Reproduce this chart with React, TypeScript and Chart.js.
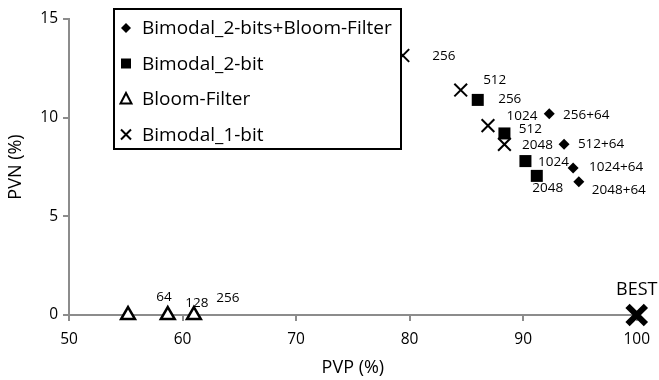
import React, { useEffect, useRef } from "react";
import { Chart, registerables } from "chart.js";

Chart.register(...registerables);

// ---- data ----
const seriesNames = ["Bimodal_2-bits+Bloom-Filter", "Bimodal_2-bit", "Bloom-Filter", "Bimodal_1-bit"];

const bfPVP = [92.3, 93.6, 94.4, 94.9];
const bfPVN = [10.2, 8.65, 7.45, 6.75];
const bfLabels = ["256+64", "512+64", "1024+64", "2048+64"];

const b2PVP = [86.0, 88.35, 90.2, 91.2];
const b2PVN = [10.9, 9.2, 7.8, 7.05];
const b2Labels = ["256", "512", "1024", "2048"];

const bloomPVP = [55.2, 58.7, 61.0];
const bloomPVN = [0, 0, 0];
const bloomLabels = ["64", "128", "256"];

const b1PVP = [79.4, 84.5, 86.9, 88.35];
const b1PVN = [13.15, 11.4, 9.6, 8.65];
const b1Labels = ["256", "512", "1024", "2048"];

const bestPVP = [100];
const bestPVN = [0];
const bestLabels = ["BEST"];

const xTicks = [50, 60, 70, 80, 90, 100];
const yTicks = [0, 5, 10, 15];

// label placement (pixel offsets from marker), styling only
const labelOffsets: number[][][] = [
  [[37, 1], [37, 0], [43, -1], [40, 8]],
  [[32, -1], [26, -4], [28, 1], [11, 12]],
  [[36, -18], [29, -12], [34, -17]],
  [[41, 1], [34, -10], [34, -9], [33, 1]],
  [[0, -25]],
];

const FONT = "'Open Sans', sans-serif";

const toPts = (xs: number[], ys: number[]) => xs.map((x, i) => ({ x, y: ys[i] }));

const pointLabelsPlugin = {
  id: "pointLabels",
  afterDatasetsDraw(chart: any) {
    const ctx = chart.ctx;
    ctx.save();
    ctx.fillStyle = "#000";
    ctx.textAlign = "center";
    ctx.textBaseline = "middle";
    chart.data.datasets.forEach((ds: any, di: number) => {
      const meta = chart.getDatasetMeta(di);
      const labels: string[] = ds.pointLabels || [];
      meta.data.forEach((el: any, i: number) => {
        const off = (labelOffsets[di] && labelOffsets[di][i]) || [30, 0];
        ctx.font = di === 4 ? `18px ${FONT}` : `13.5px ${FONT}`;
        ctx.fillText(labels[i], el.x + off[0], el.y + off[1]);
      });
    });
    ctx.restore();
  },
};

const boxLegendPlugin = {
  id: "boxLegend",
  afterDraw(chart: any) {
    const ctx = chart.ctx;
    const ca = chart.chartArea;
    const left = ca.left + 45;
    const top = ca.top - 10;
    const w = 287;
    const h = 140;
    ctx.save();
    ctx.fillStyle = "#fff";
    ctx.fillRect(left, top, w, h);
    ctx.strokeStyle = "#000";
    ctx.lineWidth = 2;
    ctx.strokeRect(left, top, w, h);
    ctx.font = `19px ${FONT}`;
    ctx.textAlign = "left";
    ctx.textBaseline = "middle";
    const mx = left + 12;
    seriesNames.forEach((name, i) => {
      const cy = top + 19 + i * 35.5;
      ctx.fillStyle = "#000";
      ctx.strokeStyle = "#000";
      ctx.beginPath();
      if (i === 0) {
        ctx.moveTo(mx - 5, cy);
        ctx.lineTo(mx, cy - 5);
        ctx.lineTo(mx + 5, cy);
        ctx.lineTo(mx, cy + 5);
        ctx.closePath();
        ctx.fill();
      } else if (i === 1) {
        ctx.rect(mx - 5, cy - 5, 10, 10);
        ctx.fill();
      } else if (i === 2) {
        ctx.lineWidth = 2;
        ctx.moveTo(mx, cy - 6);
        ctx.lineTo(mx + 5.5, cy + 4.5);
        ctx.lineTo(mx - 5.5, cy + 4.5);
        ctx.closePath();
        ctx.stroke();
      } else {
        ctx.lineWidth = 2;
        ctx.moveTo(mx - 5, cy - 5);
        ctx.lineTo(mx + 5, cy + 5);
        ctx.moveTo(mx + 5, cy - 5);
        ctx.lineTo(mx - 5, cy + 5);
        ctx.stroke();
      }
      ctx.fillStyle = "#000";
      ctx.fillText(name, left + 28, cy + 1);
    });
    ctx.restore();
  },
};

export default function App() {
  const ref = useRef<HTMLCanvasElement | null>(null);
  useEffect(() => {
    document.body.style.margin = "0";
    const canvas = ref.current;
    if (!canvas) return;
    const axisColor = "#8c8c8c";
    const chart = new Chart(canvas, {
      type: "scatter",
      data: {
        datasets: [
          {
            label: seriesNames[0],
            data: toPts(bfPVP, bfPVN),
            pointLabels: bfLabels,
            pointStyle: "rectRot",
            pointRadius: 5.5,
            backgroundColor: "#000",
            borderColor: "#000",
            borderWidth: 0,
            clip: false,
          } as any,
          {
            label: seriesNames[1],
            data: toPts(b2PVP, b2PVN),
            pointLabels: b2Labels,
            pointStyle: "rect",
            pointRadius: 8.5,
            backgroundColor: "#000",
            borderColor: "#000",
            borderWidth: 0,
            clip: false,
          } as any,
          {
            label: seriesNames[2],
            data: toPts(bloomPVP, bloomPVN),
            pointLabels: bloomLabels,
            pointStyle: "triangle",
            pointRadius: 8,
            backgroundColor: "#fff",
            borderColor: "#000",
            borderWidth: 2.5,
            clip: false,
          } as any,
          {
            label: seriesNames[3],
            data: toPts(b1PVP, b1PVN),
            pointLabels: b1Labels,
            pointStyle: "crossRot",
            pointRadius: 9,
            backgroundColor: "#000",
            borderColor: "#000",
            borderWidth: 2,
            clip: false,
          } as any,
          {
            label: "BEST",
            data: toPts(bestPVP, bestPVN),
            pointLabels: bestLabels,
            pointStyle: "crossRot",
            pointRadius: 13,
            backgroundColor: "#000",
            borderColor: "#000",
            borderWidth: 6,
            clip: false,
          } as any,
        ],
      },
      options: {
        animation: false,
        responsive: false,
        maintainAspectRatio: false,
        events: [],
        layout: { padding: { left: 0, right: 15, top: 15, bottom: 0 } },
        plugins: {
          legend: { display: false },
          tooltip: { enabled: false },
        },
        scales: {
          x: {
            type: "linear",
            min: 50,
            max: 100,
            afterBuildTicks: (s: any) => {
              s.ticks = xTicks.map((v) => ({ value: v }));
            },
            afterFit: (s: any) => {
              s.height = 65;
            },
            grid: { display: true, drawOnChartArea: false, drawTicks: true, tickLength: 6, color: axisColor, lineWidth: 2 },
            border: { display: true, color: axisColor, width: 2 },
            ticks: { color: "#000", font: { family: FONT, size: 15.5 }, padding: 9, maxRotation: 0 },
            title: { display: true, text: "PVP (%)", color: "#000", font: { family: FONT, size: 18 }, padding: { top: 0, bottom: 1 } },
          },
          y: {
            type: "linear",
            min: 0,
            max: 15,
            afterBuildTicks: (s: any) => {
              s.ticks = yTicks.map((v) => ({ value: v }));
            },
            afterFit: (s: any) => {
              s.width = 69;
            },
            grid: { display: true, drawOnChartArea: false, drawTicks: true, tickLength: 6, color: axisColor, lineWidth: 2 },
            border: { display: true, color: axisColor, width: 2 },
            ticks: { color: "#000", font: { family: FONT, size: 15.5 }, padding: 5 },
            title: { display: true, text: "PVN (%)", color: "#000", font: { family: FONT, size: 18 }, padding: { top: 5, bottom: 0 } },
          },
        },
      },
      plugins: [pointLabelsPlugin, boxLegendPlugin],
    } as any);
    return () => chart.destroy();
  }, []);
  return <canvas ref={ref} width={659} height={380} style={{ display: "block", width: 659, height: 380 }} />;
}
